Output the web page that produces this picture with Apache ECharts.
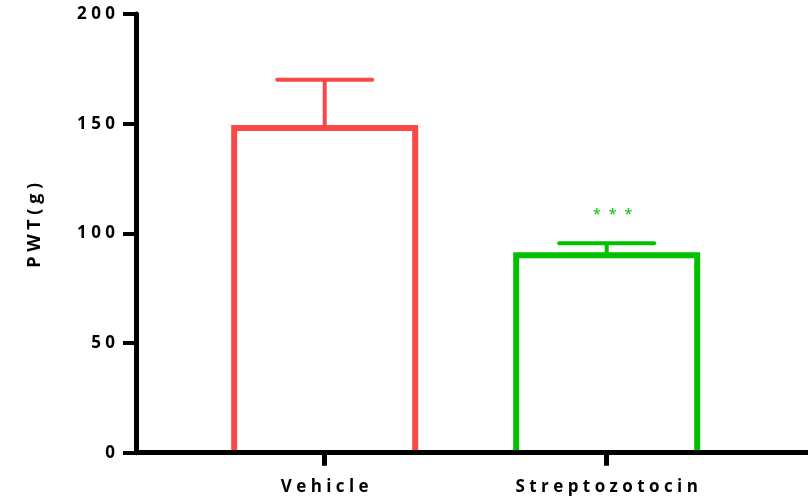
<!DOCTYPE html>
<html>
<head>
<meta charset="utf-8">
<script src="https://cdn.jsdelivr.net/npm/echarts@6/dist/echarts.min.js"></script>
<style>
    html, body { margin: 0; padding: 0; background: #fff; }
    #mychart { width: 808px; height: 502px; }
</style>
</head>
<body>
<div id="mychart"></div>
<script>
"use strict";
// values
const categories = ['Vehicle', 'Streptozotocin'];
const means = [148, 90];
const sems = [22, 5.5];
const marks = ['', '***'];
const barColors = ['#f84848', '#00c000'];
const yTicks = { min: 0, max: 200, interval: 50 };
const yTitle = 'PWT(g)';

const FONT = 'Open Sans';
const BAR_W = 181;
// the original spreads its letters out
function spaced(s) {
    return String(s).split('').join(' ');
}

const container = document.getElementById('mychart');
const myChart = echarts.init(container);

// open-bottomed bar outline + SEM whisker, like the prism plot
function renderBar(params, api) {
    const i = api.value(0);
    const zero = api.coord([i, 0]);
    const base = api.coord([i, api.value(1)]);
    const top = api.coord([i, api.value(1) + api.value(2)]);
    const color = barColors[i];
    const half = BAR_W / 2;
    const halfCap = 47.5;
    const children = [
        {
            type: 'polyline',
            shape: {
                points: [
                    [base[0] - half, zero[1]],
                    [base[0] - half, base[1]],
                    [base[0] + half, base[1]],
                    [base[0] + half, zero[1]]
                ]
            },
            style: { stroke: color, fill: null, lineWidth: 6, lineJoin: 'miter' }
        },
        {
            type: 'line',
            shape: { x1: base[0], y1: base[1], x2: top[0], y2: top[1] },
            style: { stroke: color, lineWidth: 4 }
        },
        {
            type: 'line',
            shape: { x1: top[0] - halfCap, y1: top[1], x2: top[0] + halfCap, y2: top[1] },
            style: { stroke: color, lineWidth: 4, lineCap: 'round' }
        }
    ];
    if (marks[i]) {
        children.push({
            type: 'text',
            x: top[0] + 6,
            y: top[1] - 28,
            style: {
                text: marks[i].split('').join('\u2002'),
                fill: color,
                font: '15px "' + FONT + '"',
                align: 'center',
                verticalAlign: 'middle'
            }
        });
    }
    return { type: 'group', children };
}

const option = {
    animation: false,
    backgroundColor: '#fff',
    grid: [
        // full frame: y axis and the long x axis line
        { left: 136, right: 0, top: 14, bottom: 49.3 },
        // the two categories sit inside this one
        { left: 183.7, right: 60.3, top: 14, bottom: 49.3 }
    ],
    xAxis: [
        {
            gridIndex: 0,
            type: 'value',
            min: 0,
            max: 1,
            z: 10,
            axisLine: { show: true, lineStyle: { color: '#000', width: 5 } },
            axisTick: { show: false },
            axisLabel: { show: false },
            splitLine: { show: false }
        },
        {
            gridIndex: 1,
            type: 'category',
            data: categories,
            z: 10,
            axisLine: { show: false },
            axisTick: {
                show: true,
                alignWithLabel: true,
                length: 13,
                lineStyle: { color: '#000', width: 5 }
            },
            axisLabel: {
                margin: 26,
                color: '#000',
                fontFamily: FONT,
                fontWeight: 'bold',
                fontSize: 17,
                formatter: spaced
            }
        }
    ],
    yAxis: [
        {
            gridIndex: 0,
            type: 'value',
            min: yTicks.min,
            max: yTicks.max,
            interval: yTicks.interval,
            z: 10,
            name: spaced(yTitle),
            nameLocation: 'middle',
            nameGap: 92,
            nameTextStyle: {
                color: '#000',
                fontFamily: FONT,
                fontWeight: 'bold',
                fontSize: 18,
                padding: [0, 0, 0, 16]
            },
            axisLine: { show: true, lineStyle: { color: '#000', width: 5 } },
            axisTick: {
                show: true,
                length: 13,
                lineStyle: { color: '#000', width: 4 }
            },
            axisLabel: {
                margin: 21,
                color: '#000',
                fontFamily: FONT,
                fontWeight: 'bold',
                fontSize: 17,
                formatter: spaced
            },
            splitLine: { show: false }
        },
        {
            gridIndex: 1,
            type: 'value',
            min: yTicks.min,
            max: yTicks.max,
            show: false
        }
    ],
    series: [
        {
            type: 'custom',
            name: 'PWT',
            xAxisIndex: 1,
            yAxisIndex: 1,
            renderItem: renderBar,
            encode: { x: 0, y: 1 },
            data: means.map((v, i) => [i, v, sems[i]]),
            z: 3
        }
    ]
};
myChart.setOption(option);
</script>
</body>
</html>
